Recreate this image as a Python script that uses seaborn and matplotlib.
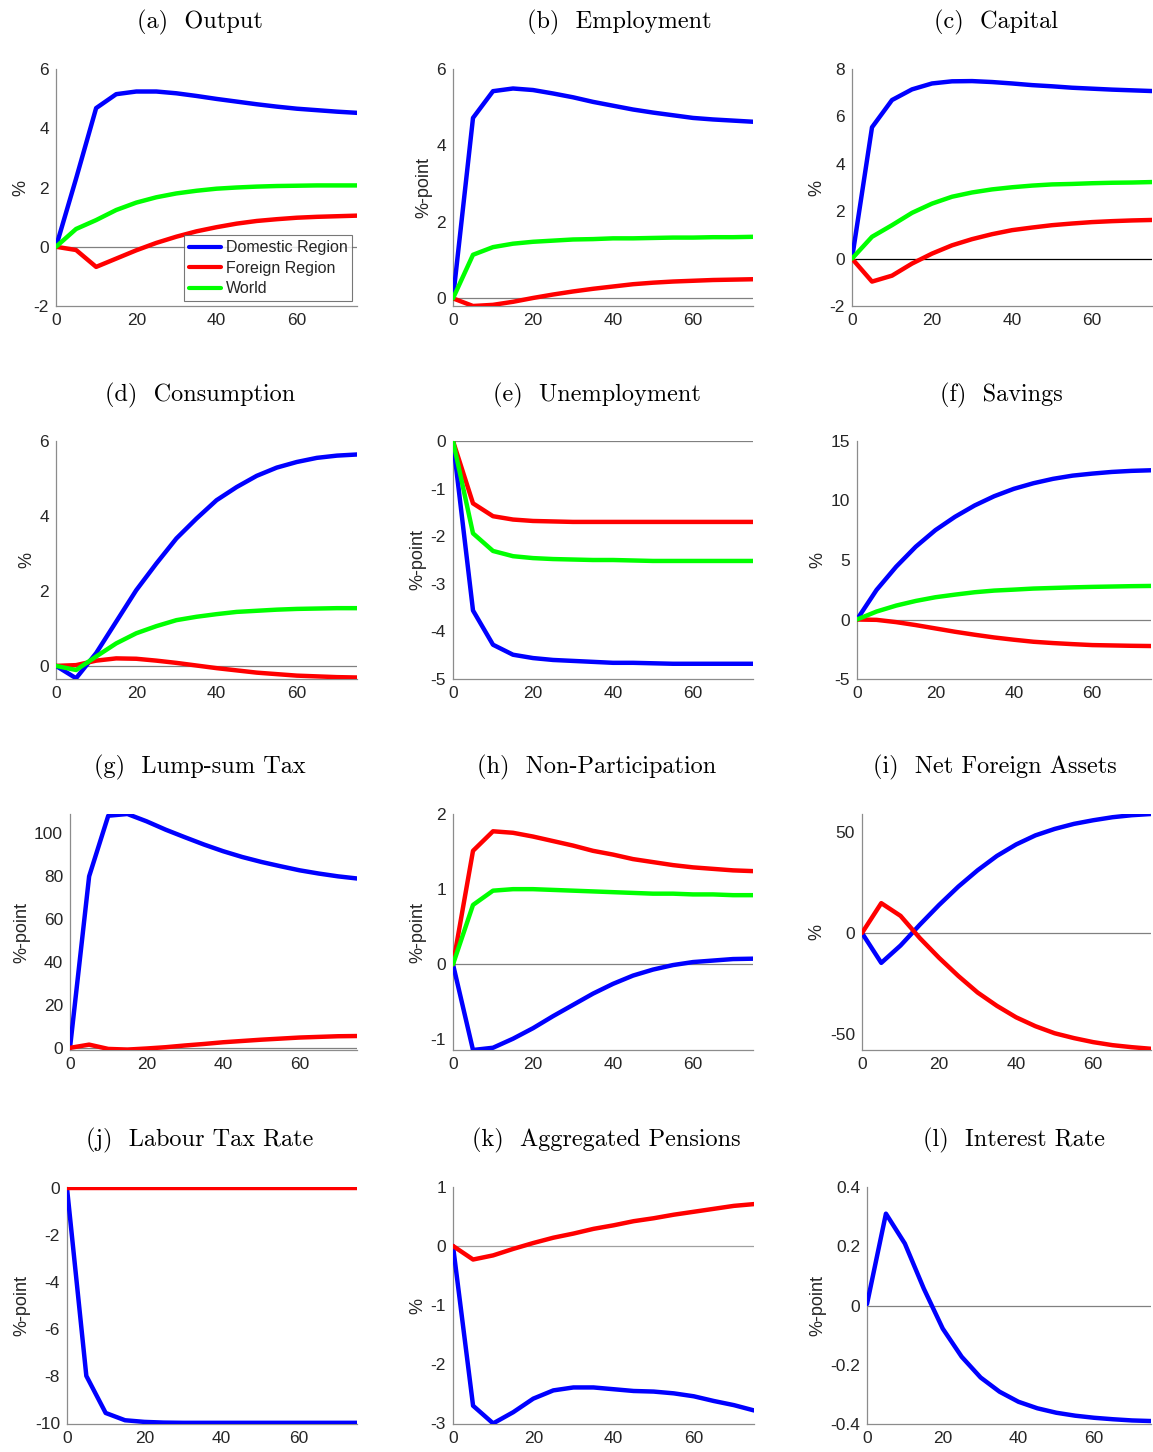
import matplotlib
matplotlib.use("Agg")
import matplotlib.pyplot as plt
import seaborn as sns
import pandas as pd

sns.set_style("white")
plt.rcParams['font.family'] = ['Liberation Sans', 'DejaVu Sans']
plt.rcParams['axes.unicode_minus'] = False

# ---------------- data ----------------
t = [0, 5, 10, 15, 20, 25, 30, 35, 40, 45, 50, 55, 60, 65, 70, 75]

output_dom = [0, 2.3, 4.68, 5.15, 5.24, 5.24, 5.18, 5.09, 4.99, 4.9, 4.81, 4.73, 4.66, 4.61, 4.56, 4.52]
output_for = [0, -0.11, -0.68, -0.4, -0.12, 0.13, 0.34, 0.52, 0.66, 0.78, 0.87, 0.93, 0.98, 1.01, 1.03, 1.05]
output_wld = [0, 0.6, 0.9, 1.24, 1.49, 1.67, 1.8, 1.89, 1.96, 2.0, 2.03, 2.05, 2.06, 2.07, 2.07, 2.07]

empl_dom = [0, 4.72, 5.42, 5.49, 5.45, 5.36, 5.26, 5.14, 5.04, 4.94, 4.86, 4.79, 4.72, 4.68, 4.65, 4.62]
empl_for = [0, -0.2, -0.17, -0.09, 0.01, 0.1, 0.18, 0.25, 0.31, 0.37, 0.41, 0.44, 0.46, 0.48, 0.49, 0.5]
empl_wld = [0, 1.14, 1.34, 1.43, 1.48, 1.51, 1.54, 1.55, 1.57, 1.57, 1.58, 1.59, 1.59, 1.6, 1.6, 1.61]

cap_dom = [0, 5.54, 6.69, 7.14, 7.39, 7.48, 7.49, 7.45, 7.39, 7.32, 7.27, 7.21, 7.17, 7.13, 7.1, 7.07]
cap_for = [0, -0.97, -0.72, -0.21, 0.21, 0.56, 0.82, 1.03, 1.2, 1.31, 1.41, 1.48, 1.54, 1.58, 1.61, 1.63]
cap_wld = [0, 0.92, 1.41, 1.93, 2.32, 2.61, 2.79, 2.92, 3.01, 3.08, 3.13, 3.15, 3.18, 3.2, 3.21, 3.23]

cons_dom = [0, -0.33, 0.34, 1.18, 2.02, 2.73, 3.4, 3.93, 4.42, 4.77, 5.07, 5.29, 5.44, 5.55, 5.61, 5.64]
cons_for = [0, 0.02, 0.14, 0.2, 0.19, 0.14, 0.08, 0.01, -0.06, -0.12, -0.18, -0.22, -0.26, -0.28, -0.3, -0.31]
cons_wld = [0, -0.11, 0.25, 0.6, 0.87, 1.06, 1.22, 1.31, 1.38, 1.44, 1.47, 1.5, 1.52, 1.53, 1.54, 1.54]

unemp_dom = [0, -3.56, -4.28, -4.49, -4.56, -4.6, -4.62, -4.64, -4.66, -4.66, -4.67, -4.68, -4.68, -4.68, -4.68, -4.68]
unemp_for = [0, -1.31, -1.58, -1.65, -1.68, -1.69, -1.7, -1.7, -1.7, -1.7, -1.7, -1.7, -1.7, -1.7, -1.7, -1.7]
unemp_wld = [0, -1.94, -2.31, -2.42, -2.46, -2.48, -2.49, -2.5, -2.5, -2.51, -2.52, -2.52, -2.52, -2.52, -2.52, -2.52]

sav_dom = [0, 2.49, 4.44, 6.12, 7.51, 8.63, 9.58, 10.36, 10.98, 11.45, 11.82, 12.09, 12.26, 12.4, 12.49, 12.54]
sav_for = [0, -0.03, -0.22, -0.47, -0.75, -1.03, -1.28, -1.51, -1.7, -1.87, -1.98, -2.07, -2.15, -2.18, -2.21, -2.23]
sav_wld = [0, 0.67, 1.17, 1.56, 1.87, 2.09, 2.29, 2.43, 2.51, 2.6, 2.65, 2.7, 2.74, 2.77, 2.8, 2.82]

tax_dom = [0, 79.8, 108.0, 108.8, 105.4, 101.5, 98.0, 94.6, 91.5, 88.8, 86.5, 84.5, 82.6, 81.1, 79.8, 78.8]
tax_for = [0, 1.5, -0.5, -0.8, -0.3, 0.3, 1.1, 1.8, 2.6, 3.2, 3.8, 4.3, 4.8, 5.1, 5.4, 5.5]

nonp_dom = [0, -1.14, -1.11, -0.99, -0.85, -0.69, -0.54, -0.39, -0.26, -0.15, -0.07, -0.01, 0.03, 0.05, 0.07, 0.075]
nonp_for = [0, 1.51, 1.77, 1.75, 1.7, 1.64, 1.58, 1.51, 1.46, 1.4, 1.36, 1.32, 1.29, 1.27, 1.25, 1.24]
nonp_wld = [0, 0.79, 0.98, 1.0, 1.0, 0.99, 0.98, 0.97, 0.96, 0.95, 0.94, 0.94, 0.93, 0.93, 0.92, 0.92]

nfa_dom = [0, -14.8, -6.2, 4.1, 13.9, 23.0, 31.1, 38.2, 43.9, 48.4, 51.6, 54.1, 55.9, 57.4, 58.4, 59.0]
nfa_for = [0, 14.8, 8.5, -2.5, -12.3, -21.3, -29.5, -36.1, -41.8, -46.2, -49.7, -52.1, -54.1, -55.6, -56.6, -57.4]

ltax_dom = [0, -8.0, -9.58, -9.89, -9.96, -9.99, -10.0, -10.0, -10.0, -10.0, -10.0, -10.0, -10.0, -10.0, -10.0, -10.0]
ltax_for = [0, 0, 0, 0, 0, 0, 0, 0, 0, 0, 0, 0, 0, 0, 0, 0]

pens_dom = [0, -2.71, -3.01, -2.82, -2.59, -2.45, -2.4, -2.4, -2.43, -2.46, -2.47, -2.5, -2.55, -2.63, -2.7, -2.79]
pens_for = [0, -0.23, -0.16, -0.05, 0.05, 0.14, 0.21, 0.29, 0.35, 0.42, 0.47, 0.53, 0.58, 0.63, 0.68, 0.71]

rate_dom = [0.005, 0.31, 0.209, 0.057, -0.078, -0.173, -0.243, -0.291, -0.325, -0.347, -0.362, -0.372, -0.379, -0.384, -0.388, -0.39]

titles = ["(a)  Output", "(b)  Employment", "(c)  Capital",
          "(d)  Consumption", "(e)  Unemployment", "(f)  Savings",
          "(g)  Lump-sum Tax", "(h)  Non-Participation", "(i)  Net Foreign Assets",
          "(j)  Labour Tax Rate", "(k)  Aggregated Pensions", "(l)  Interest Rate"]
ylabels = ["%", "%-point", "%", "%", "%-point", "%", "%-point", "%-point", "%",
           "%-point", "%", "%-point"]
series_names = ["Domestic Region", "Foreign Region", "World"]
colors = {"Domestic Region": "#0000ff", "Foreign Region": "#ff0000", "World": "#00ff00"}

panels = [
    [output_dom, output_for, output_wld],
    [empl_dom, empl_for, empl_wld],
    [cap_dom, cap_for, cap_wld],
    [cons_dom, cons_for, cons_wld],
    [unemp_dom, unemp_for, unemp_wld],
    [sav_dom, sav_for, sav_wld],
    [tax_dom, tax_for],
    [nonp_dom, nonp_for, nonp_wld],
    [nfa_dom, nfa_for],
    [ltax_dom, ltax_for],
    [pens_dom, pens_for],
    [rate_dom],
]
ylims = [(-2, 6), (-0.2, 6), (-2, 8), (-0.35, 6), (-5, 0), (-5, 15),
         (-1, 108.8), (-1.14, 2), (-58, 59), (-10.05, 0.05), (-3.02, 1), (-0.4, 0.4)]
yticks = [[-2, 0, 2, 4, 6], [0, 2, 4, 6], [-2, 0, 2, 4, 6, 8], [0, 2, 4, 6],
          [-5, -4, -3, -2, -1, 0], [-5, 0, 5, 10, 15], [0, 20, 40, 60, 80, 100],
          [-1, 0, 1, 2], [-50, 0, 50], [-10, -8, -6, -4, -2, 0],
          [-3, -2, -1, 0, 1], [-0.4, -0.2, 0, 0.2, 0.4]]
ytick_labels = [["-2", "0", "2", "4", "6"], ["0", "2", "4", "6"], ["-2", "0", "2", "4", "6", "8"],
                ["0", "2", "4", "6"], ["-5", "-4", "-3", "-2", "-1", "0"], ["-5", "0", "5", "10", "15"],
                ["0", "20", "40", "60", "80", "100"], ["-1", "0", "1", "2"], ["-50", "0", "50"],
                ["-10", "-8", "-6", "-4", "-2", "0"], ["-3", "-2", "-1", "0", "1"],
                ["-0.4", "-0.2", "0", "0.2", "0.4"]]
zero_colors = ["#808080", "#808080", "#000000", "#808080", "#808080", "#808080",
               "#808080", "#808080", "#808080", "#000000", "#a0a0a0", "#808080"]

# ---------------- layout (pixels) ----------------
W, H = 1153, 1452
lefts = [56, 453, 852, 56, 453, 857, 70, 453, 862, 67, 453, 867]
rights = [357, 753, 1152, 357, 753, 1151, 357, 753, 1151, 357, 754, 1151]
row_tb = [(69, 306), (441, 679), (814, 1050), (1187, 1424)]
title_x = [200, 619, 996, 200, 597, 1001, 200, 597, 995, 200, 606, 1014]
title_y = [22, 395, 767, 1140]

fig = plt.figure(figsize=(W / 100, H / 100), dpi=100)
fig.patch.set_facecolor("white")

for i in range(12):
    r = i // 3
    top, bot = row_tb[r]
    ax = fig.add_axes([lefts[i] / W, 1 - bot / H, (rights[i] - lefts[i]) / W, (bot - top) / H])
    ax.axhline(0, color=zero_colors[i], lw=0.9, zorder=1)
    rows = []
    for name, vals in zip(series_names, panels[i]):
        for tt, v in zip(t, vals):
            rows.append({"t": tt, "value": v, "series": name})
    df = pd.DataFrame(rows)
    sns.lineplot(data=df, x="t", y="value", hue="series",
                 palette=colors, linewidth=3.2, ax=ax, legend=(i == 0), zorder=3,
                 hue_order=[n for n in series_names if n in df["series"].unique()])
    ax.set_xlim(0, 75)
    ax.set_ylim(*ylims[i])
    ax.set_xticks([0, 20, 40, 60])
    ax.set_xticklabels(["0", "20", "40", "60"])
    ax.set_yticks(yticks[i])
    ax.set_yticklabels(ytick_labels[i])
    ax.set_xlabel("")
    ax.set_ylabel(ylabels[i], fontsize=13, color="#262626", labelpad=3)
    for s in ["top", "right"]:
        ax.spines[s].set_visible(False)
    for s in ["left", "bottom"]:
        ax.spines[s].set_color("#8c8c8c")
        ax.spines[s].set_linewidth(0.9)
    ax.tick_params(direction="in", length=4, width=0.8, color="#8c8c8c",
                   labelsize=12.5, labelcolor="#262626", pad=5)
    ax.set_facecolor("white")
    if i == 0:
        leg = ax.legend(loc="lower right", fontsize=11.5, frameon=True, fancybox=False,
                        handlelength=2.0, handletextpad=0.3, borderpad=0.3,
                        labelspacing=0.35, borderaxespad=0.3)
        leg.get_frame().set_edgecolor("#555555")
        leg.get_frame().set_linewidth(0.8)
        for line in leg.get_lines():
            line.set_linewidth(3)
    fig.text(title_x[i] / W, 1 - title_y[r] / H, titles[i], ha="center", va="center",
             fontsize=17.5, family=["cmr10", "DejaVu Serif"], color="black")

fig.savefig("out.png", dpi=100, facecolor="white")
